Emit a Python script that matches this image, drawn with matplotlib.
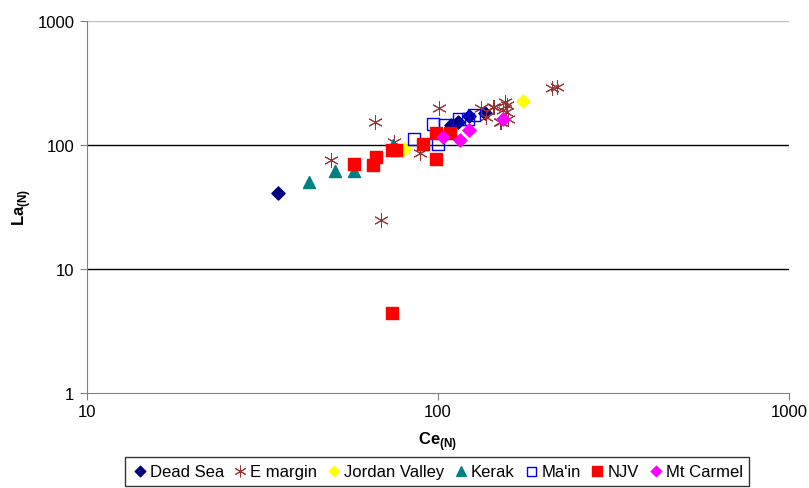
import matplotlib
matplotlib.use('Agg')
import matplotlib.pyplot as plt

plt.rcParams['font.family'] = ['Liberation Sans', 'DejaVu Sans']
plt.rcParams['mathtext.fontset'] = 'custom'
plt.rcParams['mathtext.rm'] = 'Liberation Sans'
plt.rcParams['mathtext.bf'] = 'Liberation Sans:bold'

# Ce(N) / La(N) values per group
dead_sea_ce = [35, 109, 114, 123, 136]
dead_sea_la = [41, 143, 152, 170, 180]

e_margin_ce = [49.5, 66, 69, 75, 89, 101, 133, 137, 144, 145, 150, 151, 153, 155, 156, 157, 158, 212, 218]
e_margin_la = [76, 152, 25, 105, 85, 198, 198, 167, 200, 200, 152, 152, 189, 220, 183, 207, 162, 285, 290]

jordan_ce = [80, 175]
jordan_la = [93, 224]

kerak_ce = [43, 51, 57.5, 74.5]
kerak_la = [50, 62, 61, 100]

main_ce = [85.4, 96.6, 100, 105, 115, 122, 127]
main_la = [112, 147, 102, 143, 162, 162, 174]

njv_ce = [57.5, 65.5, 66.5, 74, 76, 74, 90.5, 98.5, 99, 108]
njv_la = [70, 69, 80, 90, 91, 4.4, 102, 77, 124, 124]

carmel_ce = [103.5, 115.5, 123, 153]
carmel_la = [115, 110, 132, 162]

fig = plt.figure(figsize=(8.09, 4.89), dpi=100)
ax = fig.add_axes([0.1075, 0.194, 0.8675, 0.762])

ax.set_xscale('log')
ax.set_yscale('log')
ax.set_xlim(10, 1000)
ax.set_ylim(1, 1000)

for v in [10, 100]:
    ax.axhline(v, color='black', lw=1, zorder=1)
ax.axhline(1000, color='#c0c0c0', lw=1, zorder=1)

ax.scatter(dead_sea_ce, dead_sea_la, marker='D', s=45, color='#000080', label='Dead Sea', zorder=3)
ax.scatter(e_margin_ce, e_margin_la, marker=(6, 2, 0), s=100, color='#993333', linewidths=0.7, label='E margin', zorder=3)
ax.scatter(jordan_ce, jordan_la, marker='D', s=45, color='#ffff00', label='Jordan Valley', zorder=3)
ax.scatter(kerak_ce, kerak_la, marker='^', s=75, color='#008080', label='Kerak', zorder=3)
ax.scatter(main_ce, main_la, marker='s', s=75, facecolors='none', edgecolors='#0000ff', linewidths=1, label="Ma'in", zorder=3)
ax.scatter(njv_ce, njv_la, marker='s', s=85, color='#ff0000', label='NJV', zorder=3)
ax.scatter(carmel_ce, carmel_la, marker='D', s=45, color='#ff00ff', label='Mt Carmel', zorder=4)

for side in ['top', 'right']:
    ax.spines[side].set_visible(False)
for side in ['left', 'bottom']:
    ax.spines[side].set_color('#808080')

ax.set_xticks([10, 100, 1000])
ax.set_xticklabels(['10', '100', '1000'])
ax.set_yticks([1, 10, 100, 1000])
ax.set_yticklabels(['1', '10', '100', '1000'])
ax.minorticks_off()
ax.tick_params(axis='both', labelsize=12, color='#808080', length=5, direction='out')
ax.tick_params(axis='x', pad=3)
ax.tick_params(axis='y', pad=4)

ax.set_xlabel(r'Ce$_{\mathbf{(N)}}$', fontsize=12, fontweight='bold', labelpad=7)
ax.set_ylabel(r'La$_{\mathbf{(N)}}$', fontsize=12, fontweight='bold', labelpad=3)

leg = fig.legend(loc='lower center', bbox_to_anchor=(0.54, -0.012), ncol=7, fontsize=12,
                 frameon=True, fancybox=False, edgecolor='black', handletextpad=0.1,
                 columnspacing=0.5, borderpad=0.4, handlelength=1.0, markerscale=0.8)
leg.get_frame().set_linewidth(1)

fig.savefig('out.png', dpi=100)
